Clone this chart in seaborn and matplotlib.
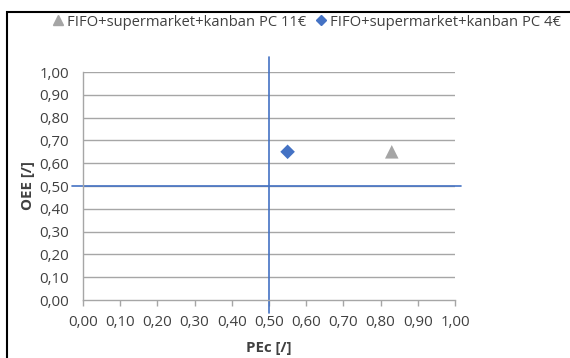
import matplotlib
matplotlib.use("Agg")
import matplotlib.pyplot as plt
import matplotlib.patches as mpatches
import seaborn as sns
import pandas as pd

# Scenario results (PEc vs OEE)
series = ["FIFO+supermarket+kanban PC 11€", "FIFO+supermarket+kanban PC 4€"]
pec = [0.83, 0.55]
oee = [0.65, 0.65]
colors = ["#A5A5A5", "#4472C4"]
markers = ["^", "D"]
marker_sizes = [95, 55]

# Threshold lines
pec_threshold = 0.5
oee_threshold = 0.5

ticks = [i / 10 for i in range(11)]
tick_labels = [f"{t:.2f}".replace(".", ",") for t in ticks]

df = pd.DataFrame({"PEc": pec, "OEE": oee, "series": series})

sns.set_theme(style="white")
plt.rcParams["font.family"] = ["Open Sans", "DejaVu Sans"]

fig = plt.figure(figsize=(5.7, 3.58), dpi=100)
ax = fig.add_axes([83 / 570, 58 / 358, 372 / 570, 228 / 358])

ax.set_xlim(0, 1)
ax.set_ylim(0, 1)
ax.set_xticks(ticks)
ax.set_yticks(ticks)
ax.set_xticklabels(tick_labels)
ax.set_yticklabels(tick_labels)

grid_c = "#A6A6A6"
for t in ticks[1:]:
    ax.axhline(t, color=grid_c, lw=1.0, zorder=1)

for s in ["top", "right"]:
    ax.spines[s].set_visible(False)
for s in ["left", "bottom"]:
    ax.spines[s].set_color(grid_c)
    ax.spines[s].set_linewidth(1.0)

text_c = "#404040"
fs = 10.8
ax.tick_params(axis="x", direction="out", length=4, width=1.0, color=grid_c,
               labelsize=fs, labelcolor=text_c, pad=7, bottom=True)
ax.tick_params(axis="y", length=0, labelsize=fs, labelcolor=text_c, pad=10)

# Threshold cross lines extending past the plot area
ax.plot([-0.03, 1.016], [oee_threshold, oee_threshold], color="#4472C4",
        lw=1.2, clip_on=False, zorder=2)
ax.plot([pec_threshold, pec_threshold], [-0.057, 1.066], color="#4472C4",
        lw=1.2, clip_on=False, zorder=2)

sns.scatterplot(data=df, x="PEc", y="OEE", hue="series", style="series",
                size="series",
                palette=dict(zip(series, colors)),
                markers=dict(zip(series, markers)),
                sizes=dict(zip(series, marker_sizes)),
                linewidth=0, ax=ax, legend=False, zorder=3)

ax.set_xlabel("PEc [/]", fontsize=fs, fontweight="bold", color=text_c, labelpad=8)
ax.set_ylabel("OEE [/]", fontsize=fs, fontweight="bold", color=text_c, labelpad=3)

# Legend along the top
handles = [plt.Line2D([], [], marker=m, color=c, linestyle="", markersize=m_s)
           for m, c, m_s in zip(markers, colors, [7, 5])]
fig.legend(handles, series, loc="center", bbox_to_anchor=(306 / 570, 1 - 22 / 358),
           ncol=2, frameon=False, fontsize=10.6, handletextpad=0.1,
           columnspacing=0.5, handlelength=1.0, labelcolor=text_c)

# Outer chart border
fig.patches.append(mpatches.Rectangle((7 / 570, -0.1), 1.2, 1 - 12 / 358 + 0.1,
                                      transform=fig.transFigure, fill=False,
                                      edgecolor="black", lw=1.5))

fig.savefig("out.png", dpi=100)
